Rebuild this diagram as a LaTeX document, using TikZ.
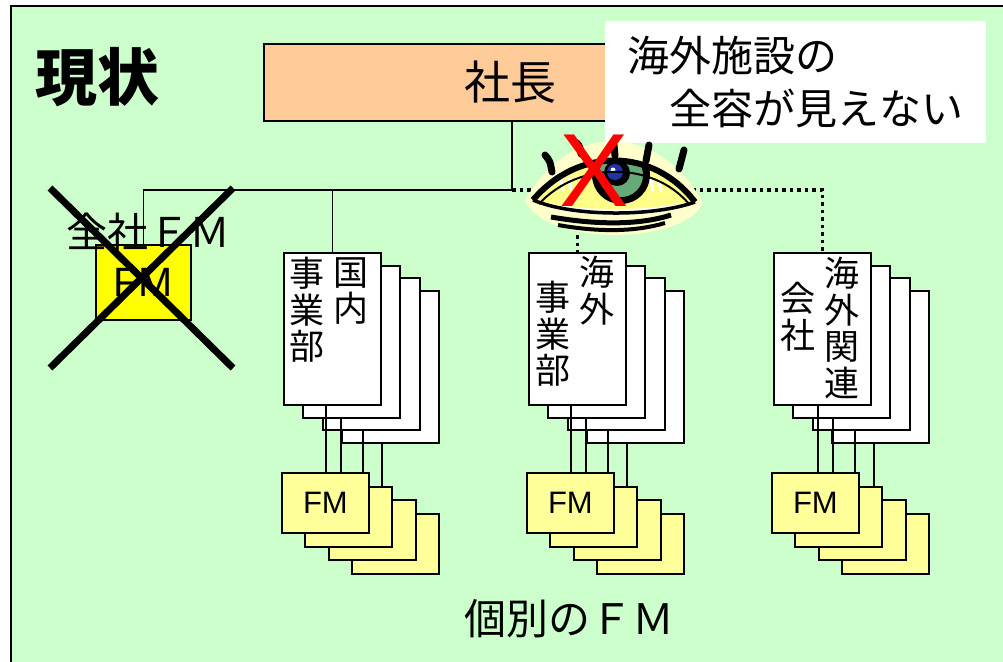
\documentclass[tikz,border=0pt]{standalone}
\usepackage{fontspec}
\setmainfont{Liberation Sans}
\newfontfamily\jp{Noto Sans CJK JP}
\usepackage{tikz}
\definecolor{bggreen}{HTML}{CCFFCC}
\definecolor{bossorange}{HTML}{FFCC99}
\definecolor{fmyellow}{HTML}{FFFF99}
\definecolor{hqyellow}{HTML}{FFFF00}
\definecolor{eyehalo}{HTML}{FFFFCC}
\definecolor{eyeyellow}{HTML}{FFFF88}
\definecolor{irisgreen}{HTML}{66AA77}
\definecolor{pupilblue}{HTML}{2233AA}
\tikzstyle{bossbox} = [rectangle, draw=black, line width=1.5, fill=bossorange, minimum width=492, minimum height=77, inner sep=0, font=\jp\fontsize{46}{46}\selectfont]
\tikzstyle{notebox} = [rectangle, fill=white, minimum width=381, minimum height=122, align=left, inner sep=0, font=\jp\fontsize{42}{53}\selectfont]
\tikzstyle{page} = [rectangle, draw=black, line width=1.6, fill=white, minimum width=97, minimum height=152, anchor=north west, inner sep=0]
\tikzstyle{fmbox} = [rectangle, draw=black, line width=1.8, fill=fmyellow, minimum width=87, minimum height=60, anchor=north west, inner sep=0, font=\fontsize{31}{31}\selectfont]
\tikzstyle{coltext} = [anchor=north, align=center, inner sep=0, font=\jp\fontsize{35}{36.5}\selectfont]
\tikzstyle{link} = [line width=1.3]
\tikzstyle{dotlink} = [line width=3.5, dash pattern=on 3.5pt off 4pt]
\tikzstyle{lash} = [line width=7, line cap=round]

\begin{document}
\begin{tikzpicture}[x=1pt, y=-1pt]
    \useasboundingbox (0,0) rectangle (1003,661);
    \clip (0,0) rectangle (1003,661);
    \fill[white] (0,0) rectangle (1003,661);
    \draw[fill=bggreen, line width=2] (11,6) rectangle (1030,690);

    \node (title) at (97,77) {\jp\bfseries\fontsize{62}{62}\selectfont 現状};

    % top of the chart
    \node (boss) [bossbox] at (510,82.5) {社長};
    \node (note) [notebox] at (795.5,82) {海外施設の\\　全容が見えない};
    \coordinate (hub) at (512,190);

    % company-wide FM (struck out)
    \node (hq) [rectangle, draw=black, line width=1.5, fill=hqyellow, minimum width=95, minimum height=75, inner sep=0, font=\fontsize{41}{41}\selectfont] at (143.5,282.5) {FM};
    \node (hqtext) at (148,232) {\jp\fontsize{41}{41}\selectfont 全社ＦＭ};

    % domestic divisions
    \node (d3) [page] at (341,290) {};
    \node (d2) [page] at (322,277) {};
    \node (d1) [page] at (302,265) {};
    \node (d0) [page] at (283,252) {};
    \node (d0r) [coltext] at (351,257) {国\\内};
    \node (d0l) [coltext] at (307,257) {事\\業\\部};
    \node (fd3) [fmbox] at (351,513) {};
    \node (fd2) [fmbox] at (328,499) {};
    \node (fd1) [fmbox] at (304,486) {};
    \node (fd0) [fmbox] at (281,472) {FM};
    \draw [link] ([xshift=43]d0.south west) -- ([xshift=45]fd0.north west);
    \draw [link] ([xshift=39]d1.south west) -- ([xshift=60]fd0.north west);
    \draw [link] ([xshift=41]d2.south west) -- ([xshift=82]fd0.north west);
    \draw [link] ([xshift=41]d3.south west) -- ([xshift=78]fd1.north west);

    % overseas divisions
    \node (m3) [page] at (586,290) {};
    \node (m2) [page] at (567,277) {};
    \node (m1) [page] at (547,265) {};
    \node (m0) [page] at (528,252) {};
    \node (m0r) [coltext] at (597,256) {海\\外};
    \node (m0l) [coltext] at (553,281) {事\\業\\部};
    \node (fm3) [fmbox] at (596,513) {};
    \node (fm2) [fmbox] at (573,499) {};
    \node (fm1) [fmbox] at (549,486) {};
    \node (fm0) [fmbox] at (526,472) {FM};
    \draw [link] ([xshift=43]m0.south west) -- ([xshift=45]fm0.north west);
    \draw [link] ([xshift=39]m1.south west) -- ([xshift=60]fm0.north west);
    \draw [link] ([xshift=41]m2.south west) -- ([xshift=82]fm0.north west);
    \draw [link] ([xshift=41]m3.south west) -- ([xshift=78]fm1.north west);

    % overseas affiliates
    \node (r3) [page] at (831,290) {};
    \node (r2) [page] at (812,277) {};
    \node (r1) [page] at (792,265) {};
    \node (r0) [page] at (773,252) {};
    \node (r0r) [coltext] at (842,257) {海\\外\\関\\連};
    \node (r0l) [coltext] at (798,282) {会\\社};
    \node (fr3) [fmbox] at (841,513) {};
    \node (fr2) [fmbox] at (818,499) {};
    \node (fr1) [fmbox] at (794,486) {};
    \node (fr0) [fmbox] at (771,472) {FM};
    \draw [link] ([xshift=45]r0.south west) -- ([xshift=47]fr0.north west);
    \draw [link] ([xshift=41]r1.south west) -- ([xshift=62]fr0.north west);
    \draw [link] ([xshift=43]r2.south west) -- ([xshift=84]fr0.north west);
    \draw [link] ([xshift=43]r3.south west) -- ([xshift=80]fr1.north west);

    % reporting lines
    \draw [link] (boss.south -| hub) -- (hub) -| (hq.north);
    \draw [link] (d0.north |- hub) -- (d0.north);
    \draw [dotlink] (hub) -- (r0.north |- hub) -- (r0.north);
    \draw [dotlink] (m0.north |- hub) -- (m0.north);

    \node (bottom) at (569,619) {\jp\fontsize{42}{42}\selectfont 個別のＦＭ};

    % the eye
    \begin{scope}[shift={(613,195)}]
        \fill[eyehalo] (-88,6) .. controls (-45,-74) and (45,-74) .. (90,8) .. controls (70,50) and (-65,52) .. cycle;
        \draw[lash] (-68,-40) .. controls (-63,-34) .. (-61,-23);
        \draw[lash] (-36,-52) .. controls (-33,-48) .. (-32,-41);
        \draw[lash] (1,-50) .. controls (2,-45) .. (2,-39);
        \draw[lash] (36,-50) .. controls (34,-42) .. (33,-34);
        \draw[lash] (71,-45) .. controls (68,-36) .. (66,-26);
        \fill[eyeyellow] (-80,5) .. controls (-35,-48) and (40,-48) .. (82,7) .. controls (40,22) and (-40,22) .. cycle;
        \begin{scope}
            \clip (-80,5) .. controls (-35,-48) and (40,-48) .. (82,7) .. controls (40,22) and (-40,22) .. cycle;
            \draw[white, line width=3] (-72,8) .. controls (-30,18) and (30,18) .. (74,9);
            \fill[black] (8,-20) circle (29);
            \fill[irisgreen] (8,-20) circle (22);
            \fill[black] (4,-22) circle (13);
            \fill[pupilblue] (2,-23) circle (8);
            \fill[white] (0,-25) circle (2.5);
        \end{scope}
        \draw[white, line width=3, line cap=round] (-52,-15) -- (-50,-5);
        \draw[white, line width=3, line cap=round] (-44,-17) -- (-42,-6);
        \draw[white, line width=3, line cap=round] (38,-16) -- (40,-5);
        \draw[white, line width=3, line cap=round] (46,-14) -- (48,-4);
        \draw[line width=6] (-80,5) .. controls (-35,-48) and (40,-48) .. (82,7);
        \draw[line width=2] (-74,9) .. controls (-35,-34) and (40,-34) .. (76,9);
        \draw[line width=3.5] (82,7) .. controls (40,22) and (-40,22) .. (-80,5);
        \draw[line width=5] (-62,22) .. controls (-10,31) and (30,29) .. (58,20);
        \draw[line width=4] (-55,30) .. controls (-10,38) and (25,36) .. (52,28);
    \end{scope}
    \node (nope) [red, inner sep=0, font=\fontsize{104}{104}\selectfont] at (594,171) {X};

    % strike-out of the company-wide FM
    \draw[line width=7] (50,188) -- (233,368);
    \draw[line width=7] (233,188) -- (50,368);
\end{tikzpicture}
\end{document}
